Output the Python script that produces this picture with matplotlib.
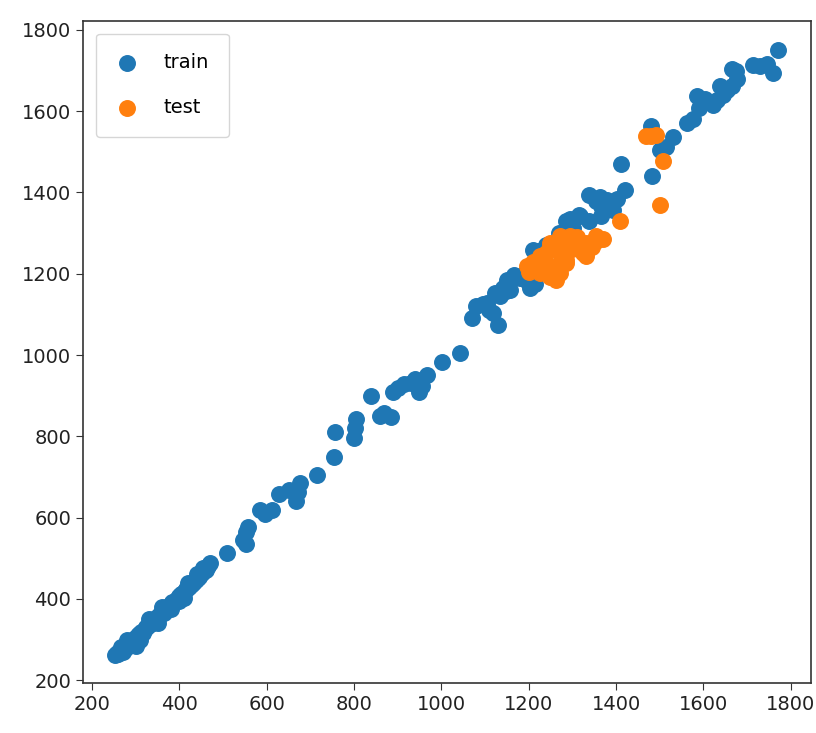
"""
Train / test scatter of predicted vs actual values.
Writes out.png (816x733).
"""

import matplotlib.pyplot as plt

# train points (x, y)
TRAIN_X = [
    252, 256, 260, 263, 267, 270, 274, 278, 282, 285, 289, 293, 297, 300, 304,
    308, 312, 316, 320, 324, 328, 332, 336, 340, 344, 348, 352, 356, 360, 364,
    368, 372, 376, 380, 384, 388, 392, 396, 400, 404, 408, 412, 416, 420, 424,
    428, 432, 436, 440, 445, 450, 455, 460, 466, 470,
    300, 330, 380, 420, 280, 350, 400, 440, 265, 310, 360, 410, 455,
    509, 545, 552, 552, 557, 584, 595, 612, 628, 650, 666, 671, 677, 715,
    755, 757, 800, 805, 803, 838, 860, 868, 885,
    890, 900, 915, 930, 948, 968, 955, 940, 1001, 1042,
    1070, 1080, 1094, 1104, 1117, 1129, 1122, 1135, 1148, 1157, 1150, 1165,
    1195, 1192, 1203, 1214, 1210, 1224, 1110, 1140, 1180,
    1240, 1270, 1295, 1315,
    1286, 1301, 1317, 1338, 1339, 1355, 1362, 1366, 1366, 1380, 1393, 1403,
    1412, 1420, 1482, 1480, 1500, 1515, 1530, 1562, 1575,
    1586, 1590, 1604, 1622, 1630, 1637, 1645, 1655, 1665, 1666, 1676, 1674,
    1713, 1730, 1745, 1760, 1770,
]
TRAIN_Y = [
    262, 268, 265, 272, 275, 270, 282, 280, 287, 292, 290, 298, 303, 300, 310,
    313, 318, 315, 325, 330, 333, 338, 343, 340, 350, 355, 358, 363, 368, 365,
    375, 380, 383, 388, 392, 390, 398, 403, 407, 412, 415, 420, 425, 428, 432,
    437, 440, 445, 450, 455, 460, 466, 472, 480, 488,
    285, 350, 375, 440, 300, 340, 395, 460, 282, 300, 380, 402, 475,
    512, 545, 536, 565, 577, 619, 608, 619, 657, 668, 641, 663, 685, 705,
    748, 811, 797, 842, 820, 898, 850, 858, 848,
    910, 918, 928, 932, 910, 950, 925, 940, 982, 1004,
    1091, 1120, 1125, 1128, 1103, 1075, 1152, 1146, 1157, 1160, 1185, 1198,
    1181, 1201, 1164, 1174, 1259, 1257, 1110, 1165, 1190,
    1270, 1300, 1334, 1345,
    1330, 1313, 1341, 1394, 1330, 1378, 1390, 1341, 1366, 1382, 1358, 1383,
    1471, 1407, 1441, 1564, 1505, 1513, 1537, 1572, 1580,
    1637, 1608, 1630, 1616, 1628, 1661, 1640, 1652, 1663, 1705, 1680, 1700,
    1713, 1712, 1715, 1693, 1750,
]

# test points (x, y)
TEST_X = [
    1195, 1200, 1218, 1225, 1225, 1233, 1248, 1248, 1248, 1263, 1271, 1271,
    1271, 1286, 1286, 1294, 1301, 1317, 1324, 1332, 1332, 1332, 1355, 1355,
    1262, 1210, 1240, 1260, 1280, 1300, 1310, 1345, 1370,
    1408, 1469, 1480, 1492, 1507, 1500,
]
TEST_Y = [
    1218, 1205, 1210, 1243, 1202, 1226, 1268, 1193, 1276, 1193, 1251, 1292,
    1202, 1234, 1226, 1292, 1284, 1268, 1251, 1276, 1251, 1243, 1280, 1292,
    1185, 1230, 1250, 1220, 1265, 1260, 1290, 1265, 1285,
    1329, 1538, 1540, 1542, 1477, 1370,
]

TICKS = [200, 400, 600, 800, 1000, 1200, 1400, 1600, 1800]


def main() -> None:
    fig = plt.figure(figsize=(8.16, 7.33), dpi=100)
    ax = fig.add_axes([0.1017, 0.0682, 0.892, 0.9032])

    ax.scatter(TRAIN_X, TRAIN_Y, s=125, color="#1f77b4", label="train")
    ax.scatter(TEST_X, TEST_Y, s=125, color="#ff7f0e", label="test")

    ax.set_xlim(179, 1846)
    ax.set_ylim(193, 1822)
    ax.set_xticks(TICKS)
    ax.set_yticks(TICKS)
    ax.tick_params(labelsize=14, length=5, colors="#333333", labelcolor="#222222")
    for sp in ax.spines.values():
        sp.set_color("#333333")
        sp.set_linewidth(1.2)

    ax.legend(
        loc="upper left",
        fontsize=14,
        borderpad=1.0,
        labelspacing=1.35,
        handlelength=1.2,
        handletextpad=1.3,
        borderaxespad=0.65,
    )

    fig.savefig("out.png", dpi=100)
    plt.close(fig)


if __name__ == "__main__":
    main()
